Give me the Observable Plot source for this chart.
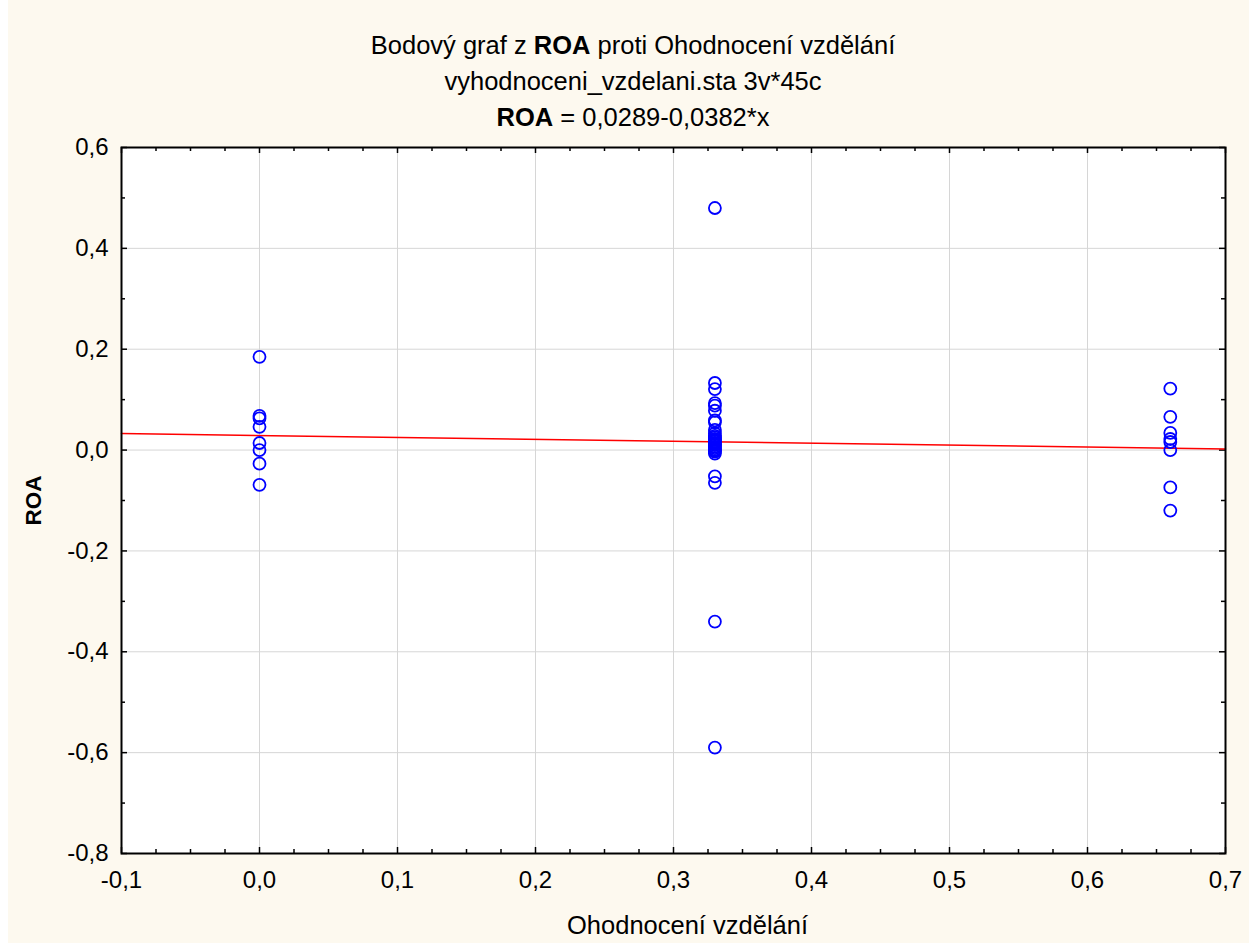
<!DOCTYPE html>
<html>
<head>
<meta charset="utf-8">
<script src="https://cdn.jsdelivr.net/npm/d3@7"></script>
<script src="https://cdn.jsdelivr.net/npm/@observablehq/plot@0.6"></script>
<style>
  body { margin: 0; background: #ffffff; }
  #wrap { position: relative; margin-left: 8px; width: 1241px; height: 943px; background: #fdf9ef; overflow: hidden;
          font-family: "Liberation Sans", Arial, sans-serif; color: #000; }
  #titles { position: absolute; left: 0; top: 27px; width: 1250px; text-align: center; font-size: 25.5px; line-height: 36px; }
  #chart { position: absolute; left: 0; top: 115px; }
</style>
</head>
<body>
<div id="wrap">
  <div id="titles">
    <div>Bodový graf z <b>ROA</b> proti Ohodnocení vzdělání</div>
    <div>vyhodnoceni_vzdelani.sta 3v*45c</div>
    <div><b>ROA</b> = 0,0289-0,0382*x</div>
  </div>
  <div id="chart"></div>
</div>
<script>
// ---- data ----
const xLevels = [0, 0.33, 0.66];
const roaAt000 = [0.185, 0.068, 0.063, 0.046, 0.014, 0.0, -0.027, -0.069];
const roaAt033 = [0.48, 0.133, 0.121, 0.093, 0.088, 0.078, 0.059, 0.055, 0.04, 0.033, 0.028, 0.025, 0.022, 0.02,
                  0.017, 0.014, 0.012, 0.01, 0.007, 0.004, 0.001, -0.001, -0.003, -0.007, -0.052, -0.065, -0.34, -0.59];
const roaAt066 = [0.122, 0.066, 0.034, 0.022, 0.016, 0.0, -0.074, -0.12];
const regIntercept = 0.0289;
const regSlope = -0.0382;
const regXRange = [-0.1, 0.7];
const xTicks = [-0.1, 0, 0.1, 0.2, 0.3, 0.4, 0.5, 0.6, 0.7];
const xMinorTicks = [-0.075, -0.05, -0.025, 0.025, 0.05, 0.075, 0.125, 0.15, 0.175, 0.225, 0.25, 0.275,
                     0.325, 0.35, 0.375, 0.425, 0.45, 0.475, 0.525, 0.55, 0.575, 0.625, 0.65, 0.675];
const yTicks = [-0.8, -0.6, -0.4, -0.2, 0, 0.2, 0.4, 0.6];
const yMinorTicks = [-0.7, -0.5, -0.3, -0.1, 0.1, 0.3, 0.5];
const xLabel = "Ohodnocení vzdělání";
const yLabel = "ROA";

// ---- build ----
const points = [];
[roaAt000, roaAt033, roaAt066].forEach((arr, i) => arr.forEach(v => points.push({x: xLevels[i], y: v})));
const regLine = regXRange.map(x => ({x, y: regIntercept + regSlope * x}));

const W = 1241, H = 828;
const mL = 113, mR = 24, mT = 32, mB = 90;
const innerW = W - mL - mR, innerH = H - mT - mB;
const fmt = d => d.toFixed(1).replace(".", ",").replace("-0,0", "0,0");
const tickColor = "#000";

const chart = Plot.plot({
  width: W, height: H,
  marginLeft: mL, marginRight: mR, marginTop: mT, marginBottom: mB,
  style: {fontFamily: "'Liberation Sans', Arial, sans-serif", fontSize: "24px", background: "transparent", color: "#000"},
  x: {domain: [-0.1, 0.7], axis: null},
  y: {domain: [-0.8, 0.6], axis: null},
  marks: [
    Plot.frame({fill: "#ffffff", stroke: null}),
    Plot.gridX(xTicks, {stroke: "#d6d6d6", strokeOpacity: 1, strokeWidth: 1}),
    Plot.gridY(yTicks, {stroke: "#d6d6d6", strokeOpacity: 1, strokeWidth: 1}),
    // inward ticks
    Plot.tickX(xTicks, {x: d => d, insetTop: innerH - 6, stroke: tickColor, strokeWidth: 1.5}),
    Plot.tickX(xTicks, {x: d => d, insetBottom: innerH - 6, stroke: tickColor, strokeWidth: 1.5}),
    Plot.tickX(xMinorTicks, {x: d => d, insetTop: innerH - 4, stroke: tickColor, strokeWidth: 1.5}),
    Plot.tickX(xMinorTicks, {x: d => d, insetBottom: innerH - 4, stroke: tickColor, strokeWidth: 1.5}),
    Plot.tickY(yTicks, {y: d => d, insetRight: innerW - 6, stroke: tickColor, strokeWidth: 1.5}),
    Plot.tickY(yTicks, {y: d => d, insetLeft: innerW - 6, stroke: tickColor, strokeWidth: 1.5}),
    Plot.tickY(yMinorTicks, {y: d => d, insetRight: innerW - 4, stroke: tickColor, strokeWidth: 1.5}),
    Plot.tickY(yMinorTicks, {y: d => d, insetLeft: innerW - 4, stroke: tickColor, strokeWidth: 1.5}),
    // tick labels
    Plot.axisX(xTicks, {anchor: "bottom", tickSize: 0, tickPadding: 17, tickFormat: fmt, fontSize: 24, label: null}),
    Plot.axisY(yTicks, {anchor: "left", tickSize: 0, tickPadding: 13, tickFormat: fmt, fontSize: 24, label: null}),
    // regression line
    Plot.line(regLine, {x: "x", y: "y", stroke: "#ff0000", strokeWidth: 1.5}),
    // points
    Plot.dot(points, {x: "x", y: "y", r: 6, stroke: "#0000ff", strokeWidth: 1.8, fill: "none"}),
    Plot.frame({stroke: "#000", strokeWidth: 2}),
    // axis titles
    Plot.text([xLabel], {text: d => d, frameAnchor: "bottom", dy: 72, dx: 14, fontSize: 25.5, textAnchor: "middle", lineAnchor: "middle"}),
    Plot.text([yLabel], {text: d => d, frameAnchor: "left", dx: -88, rotate: -90, fontSize: 22.5, fontWeight: "bold", textAnchor: "middle", lineAnchor: "middle"})
  ]
});
document.getElementById("chart").appendChild(chart);
</script>
</body>
</html>
